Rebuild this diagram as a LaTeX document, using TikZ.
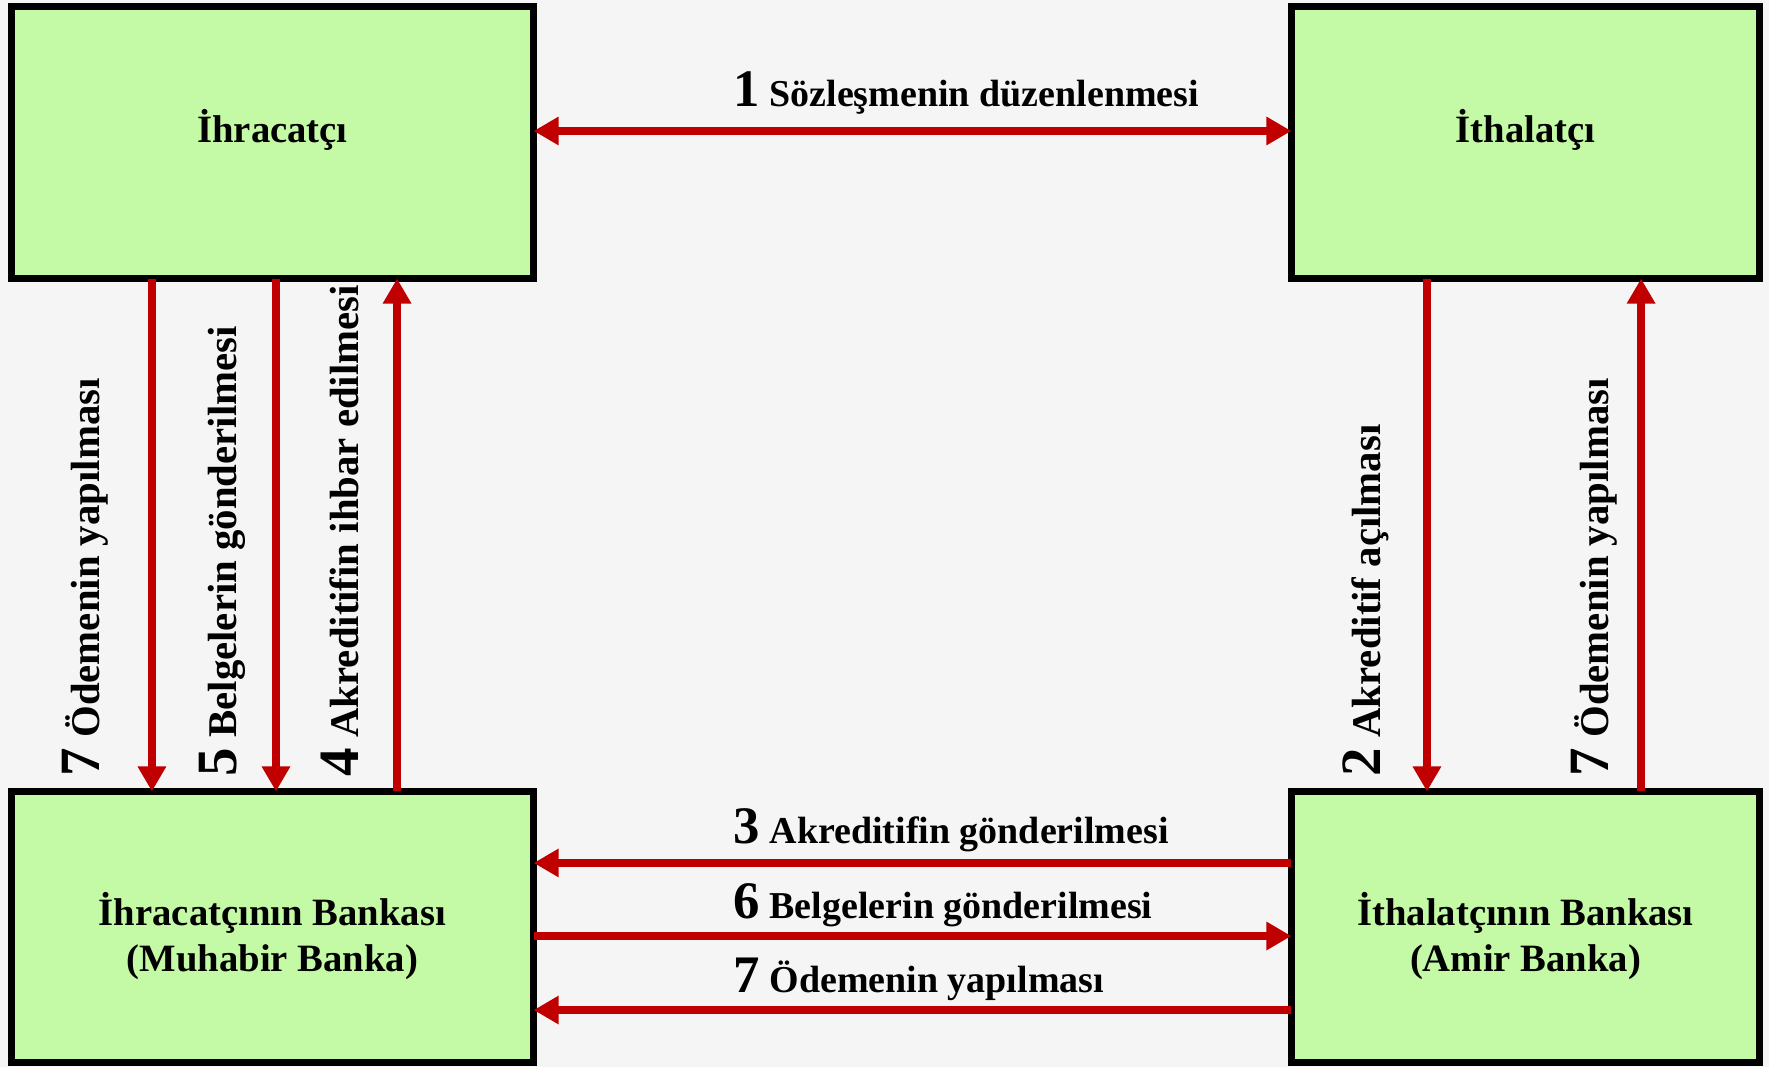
\documentclass[tikz,border=0pt]{standalone}
\usepackage{fontspec}
\setmainfont{Liberation Serif}
\usetikzlibrary{arrows.meta, calc}
\definecolor{bggray}{RGB}{245,245,245}
\definecolor{boxgreen}{RGB}{196,250,166}
\definecolor{flowred}{RGB}{192,0,0}
\tikzset{
  party box/.style={
    draw=black,
    fill=boxgreen,
    line width=2pt,
    inner sep=0pt,
    outer sep=0pt
  },
  party name/.style={
    font=\fontsize{11}{13.2}\selectfont\bfseries,
    align=center,
    inner sep=0pt
  },
  flow/.style={
    -{Triangle[length=0.25cm, width=0.27cm]},
    line width=2.2pt,
    color=flowred
  },
  two way flow/.style={
    {Triangle[length=0.25cm, width=0.27cm]}-{Triangle[length=0.25cm, width=0.27cm]},
    line width=2.2pt,
    color=flowred
  },
  step label/.style={
    font=\fontsize{10.8}{12}\selectfont\bfseries,
    inner sep=0pt
  },
  side label/.style={
    font=\fontsize{11.6}{13}\selectfont\bfseries,
    inner sep=0pt,
    rotate=90,
    anchor=base west
  }
}
\newcommand{\stepno}[1]{{\fontsize{15}{15}\selectfont #1}}
\newcommand{\sidestepno}[1]{{\fontsize{16.2}{16.2}\selectfont #1}}

\begin{document}
\begin{tikzpicture}[x=0.01cm, y=-0.01cm]
    \fill[bggray] (0,0) rectangle (1769,1067);
    \useasboundingbox (0,0) rectangle (1769,1067);

    % taraflar
    \node[party box, minimum width=5.22cm, minimum height=2.72cm] (exporter) at (272.5,142.5) {};
    \node[party box, minimum width=4.68cm, minimum height=2.72cm] (importer) at (1525.5,142.5) {};
    \node[party box, minimum width=5.22cm, minimum height=2.71cm] (expbank) at (272.5,927) {};
    \node[party box, minimum width=4.68cm, minimum height=2.71cm] (impbank) at (1525.5,927) {};

    \node[party name, anchor=base] (exportername) at (exporter.center) {İhracatçı};
    \node[party name, anchor=base] (importername) at (importer.center) {İthalatçı};
    \node[party name] (expbankname) at ([yshift=-0.09cm]expbank.center) {İhracatçının Bankası\\(Muhabir Banka)};
    \node[party name] (impbankname) at ([yshift=-0.09cm]impbank.center) {İthalatçının Bankası\\(Amir Banka)};

    % yatay akışlar
    \draw[two way flow] ([yshift=0.115cm]exporter.east) -- ([yshift=0.115cm]importer.west);
    \draw[flow] ([yshift=0.64cm]impbank.west) -- ([yshift=0.64cm]expbank.east);
    \draw[flow] ([yshift=-0.09cm]expbank.east) -- ([yshift=-0.09cm]impbank.west);
    \draw[flow] ([yshift=-0.83cm]impbank.west) -- ([yshift=-0.83cm]expbank.east);

    % dikey akışlar
    \draw[flow] ([xshift=1.405cm]exporter.south west) -- ([xshift=1.405cm]expbank.north west);
    \draw[flow] ([xshift=2.645cm]exporter.south west) -- ([xshift=2.645cm]expbank.north west);
    \draw[flow] ([xshift=3.855cm]expbank.north west) -- ([xshift=3.855cm]exporter.south west);
    \draw[flow] ([xshift=1.355cm]importer.south west) -- ([xshift=1.355cm]impbank.north west);
    \draw[flow] ([xshift=3.495cm]impbank.north west) -- ([xshift=3.495cm]importer.south west);

    % adım etiketleri
    \node[step label, anchor=base west] (step1) at (733,107) {\stepno{1} Sözleşmenin düzenlenmesi};
    \node[step label, anchor=base west] (step3) at (733,843) {\stepno{3} Akreditifin gönderilmesi};
    \node[step label, anchor=base west] (step6) at (733,918) {\stepno{6} Belgelerin gönderilmesi};
    \node[step label, anchor=base west] (step7b) at (733,992) {\stepno{7} Ödemenin yapılması};

    \node[side label] (step7l) at (100,777) {\sidestepno{7} Ödemenin yapılması};
    \node[side label] (step5) at (236,777) {\sidestepno{5} Belgelerin gönderilmesi};
    \node[side label] (step4) at (358,777) {\sidestepno{4} Akreditifin ihbar edilmesi};
    \node[side label] (step2) at (1380,777) {\sidestepno{2} Akreditif açılması};
    \node[side label] (step7r) at (1608,777) {\sidestepno{7} Ödemenin yapılması};
\end{tikzpicture}
\end{document}
